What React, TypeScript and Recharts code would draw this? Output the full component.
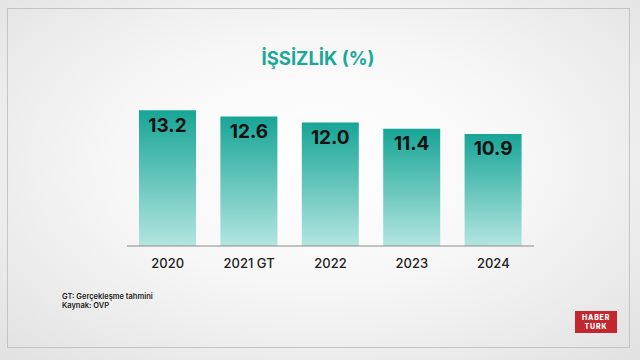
import React from 'react';
import { BarChart, Bar, XAxis, YAxis, LabelList } from 'recharts';

const years = ['2020', '2021 GT', '2022', '2023', '2024'];
const unemployment = [13.2, 12.6, 12.0, 11.4, 10.9];

const data = years.map((year, i) => ({ year, value: unemployment[i] }));

const TEAL = '#1aa898';
const FONT = 'Inter, "Open Sans", sans-serif';

const App = () => {
    return (
        <div
            style={{
                position: 'absolute',
                left: 0,
                top: 0,
                width: 640,
                height: 360,
                overflow: 'hidden',
                fontFamily: FONT,
                background:
                    'radial-gradient(ellipse 70% 75% at 50% 45%, #ffffff 0%, #f7f7f7 45%, #e2e2e2 100%)',
            }}
        >
            {/* slide frame */}
            <div
                style={{
                    position: 'absolute',
                    left: 7,
                    top: 8,
                    width: 623,
                    height: 340,
                    border: '1px solid #c4c4c4',
                    boxSizing: 'border-box',
                }}
            />

            <div
                style={{
                    position: 'absolute',
                    top: 45,
                    left: 0,
                    width: 636,
                    textAlign: 'center',
                    color: TEAL,
                    fontSize: 18.5,
                    fontWeight: 700,
                    lineHeight: '26px',
                }}
            >
                İŞSİZLİK (%)
            </div>

            <div style={{ position: 'absolute', left: 0, top: 0 }}>
                <BarChart
                    width={640}
                    height={360}
                    data={data}
                    margin={{ top: 102, right: 106, bottom: 84, left: 127 }}
                >
                    <defs>
                        <linearGradient id="barFill" x1="0" y1="0" x2="0" y2="1">
                            <stop offset="0%" stopColor="#17a596" />
                            <stop offset="100%" stopColor="#b3e5e0" />
                        </linearGradient>
                    </defs>
                    <XAxis
                        dataKey="year"
                        height={30}
                        tickLine={false}
                        tickSize={0}
                        tickMargin={13}
                        axisLine={{ stroke: '#8a8a8a', strokeWidth: 1 }}
                        tick={{ fill: '#222', fontSize: 13, fontWeight: 500, fontFamily: FONT }}
                        interval={0}
                    />
                    <YAxis hide domain={[0, 14]} />
                    <Bar dataKey="value" fill="url(#barFill)" barSize={57} isAnimationActive={false}>
                        <LabelList
                            dataKey="value"
                            position="insideTop"
                            offset={8}
                            formatter={(v: number) => v.toFixed(1)}
                            style={{ fill: '#111', fontSize: 19, fontWeight: 700, fontFamily: FONT }}
                        />
                    </Bar>
                </BarChart>
            </div>

            <div
                style={{
                    position: 'absolute',
                    left: 62,
                    top: 292,
                    fontSize: 7.5,
                    fontWeight: 600,
                    color: '#222',
                    lineHeight: '9px',
                }}
            >
                <div>GT: Gerçekleşme tahmini</div>
                <div>Kaynak: OVP</div>
            </div>

            <div
                style={{
                    position: 'absolute',
                    left: 575,
                    top: 311,
                    width: 42,
                    height: 22,
                    background: '#c1272d',
                    color: '#fff',
                    fontSize: 7,
                    fontWeight: 800,
                    lineHeight: '9px',
                    textAlign: 'center',
                    letterSpacing: 0.8,
                    paddingTop: 2,
                    boxSizing: 'border-box',
                }}
            >
                <div>HABER</div>
                <div>TURK</div>
            </div>
        </div>
    );
};

export default App;
